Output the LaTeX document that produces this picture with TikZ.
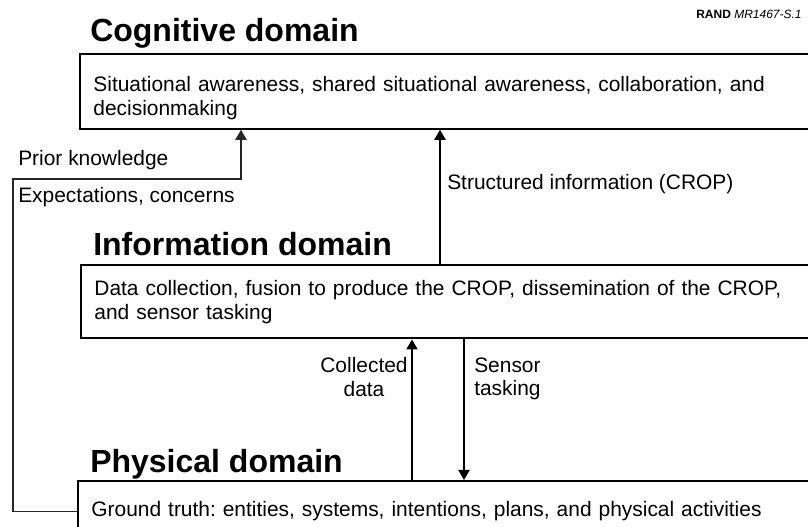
\documentclass[tikz,border=0pt]{standalone}
\usepackage{fontspec}
\setmainfont{Liberation Sans}
\usetikzlibrary{arrows.meta}
\frenchspacing

\begin{document}
\begin{tikzpicture}[x=0.75pt, y=-0.75pt,
    domainbox/.style={draw, line width=1.6pt, anchor=north west, minimum width=620pt,
        text width=600pt, align=left, inner xsep=8pt, font=\fontsize{15.7}{18}\selectfont},
    heading/.style={anchor=west, inner sep=0pt, font=\fontsize{24}{26}\selectfont\bfseries},
    lbl/.style={inner sep=0pt, font=\fontsize{15.7}{17.5}\selectfont},
    flow/.style={line width=0.8pt, -{Triangle[length=7.5pt, width=8.5pt]}}]
\clip (0,0) rectangle (808,527);
% tag
\node [lbl, anchor=west, font=\fontsize{9}{11}\selectfont] (tag) at (696,14)
    {\textbf{RAND} \textit{MR1467-S.1}};
% domains
\node [heading] (cogtitle) at (90,33) {Cognitive domain};
\node [domainbox, minimum height=56pt] (cog) at (79,53)
    {\rule{0pt}{21pt}Situational awareness, shared situational awareness, collaboration, and\\decisionmaking};
\node [heading] (infotitle) at (93,244) {Information domain};
\node [domainbox, minimum height=55pt] (info) at (80,264)
    {Data collection, fusion to produce the CROP, dissemination of the CROP,\\and sensor tasking};
\node [heading] (phystitle) at (90,464) {Physical domain};
\node [domainbox, minimum height=45pt] (phys) at (77,480)
    {Ground truth: entities, systems, intentions, plans, and physical activities};
% arrow positions
\coordinate (crop) at (440,0);
\coordinate (coll) at (412,0);
\coordinate (task) at (464,0);
\coordinate (loop) at (13,179);
\coordinate (prior) at (241,0);
\draw [flow] (info.north -| crop) -- (cog.south -| crop);
\draw [flow] (phys.north -| coll) -- (info.south -| coll);
\draw [flow] (info.south -| task) -- (phys.north -| task);
\draw [flow, draw=black!85] (phys.west) -| (loop) -| (cog.south -| prior);
% labels
\node [lbl, anchor=west] (priorlbl) at (18,160) {Prior knowledge};
\node [lbl, anchor=west] (explbl) at (18,197) {Expectations, concerns};
\node [lbl, anchor=west] (croplbl) at (447,184) {Structured information (CROP)};
\node [lbl, align=center] (colllbl) at (364,377) {Collected\\data};
\node [lbl, align=left, anchor=west] (tasklbl) at (474,379) {Sensor\\tasking};
\end{tikzpicture}
\end{document}
